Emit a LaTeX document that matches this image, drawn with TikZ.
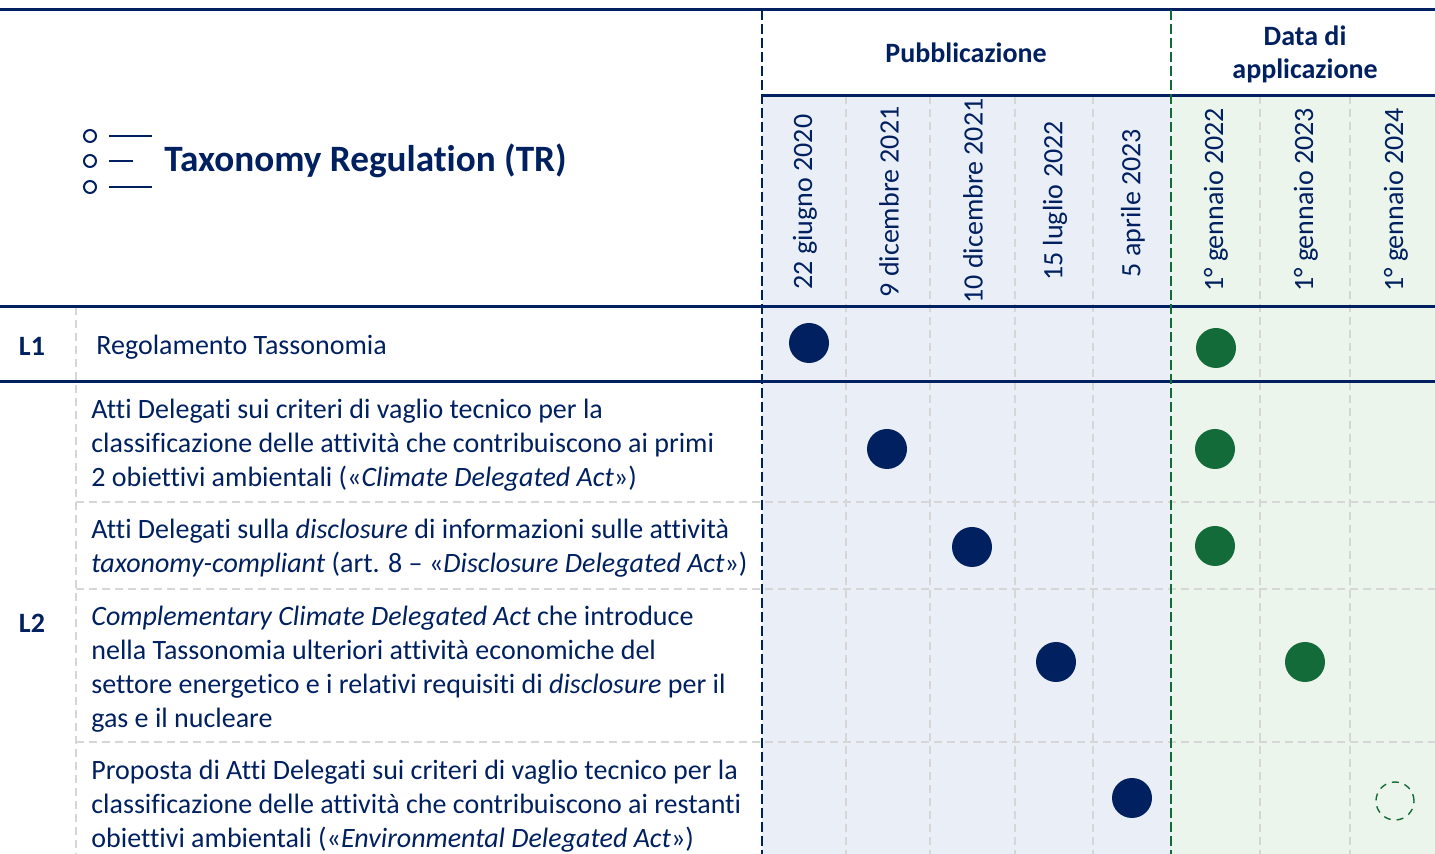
\documentclass[tikz,border=0pt]{standalone}
\usepackage{fontspec}
\setmainfont[Ligatures=NoCommon]{Carlito}

\definecolor{navy}{RGB}{0,32,96}
\definecolor{leafgreen}{RGB}{20,107,58}
\definecolor{pubfill}{RGB}{234,239,247}
\definecolor{appfill}{RGB}{236,245,236}
\definecolor{gridgray}{RGB}{214,214,214}

\tikzset{
  rule/.style={draw=navy, line width=1.5pt},
  gridline/.style={draw=gridgray, line width=1pt, dash pattern=on 4pt off 2.5pt},
  pubdot/.style={circle, fill=navy, minimum size=20pt},
  appdot/.style={circle, fill=leafgreen, minimum size=20pt},
  datelabel/.style={rotate=90},
}

\begin{document}
\begin{tikzpicture}[x=0.5pt,y=-0.5pt]

  \useasboundingbox (0,0) rectangle (1435,854);

  % column backgrounds
  \fill[pubfill] (762,96) rectangle (1171,854);
  \fill[appfill] (1171,96) rectangle (1435,854);

  % light grid
  \draw[gridline] (76,307) -- (76,854);
  \foreach \x in {846,930,1015,1093,1260,1350}
    \draw[gridline] (\x,96) -- (\x,854);
  \foreach \y in {502,589,742}
    \draw[gridline] (76,\y) -- (1435,\y);

  % main rules
  \draw[rule] (0,10) -- (1435,10);
  \draw[rule] (762,96) -- (1435,96);
  \draw[rule] (0,307) -- (1435,307);
  \draw[rule] (0,382) -- (1435,382);
  \draw[navy, line width=1.2pt, dash pattern=on 5pt off 2pt] (762,10) -- (762,854);
  \draw[leafgreen, line width=1.2pt, dash pattern=on 5pt off 2pt] (1171,10) -- (1171,854);

  % list icon
  \begin{scope}[navy, line width=1pt]
    \draw (90,136) circle [radius=6];
    \draw (90,161) circle [radius=6];
    \draw (90,187) circle [radius=6];
    \draw (109,136) -- (152,136);
    \draw (109,161) -- (133,161);
    \draw (109,187) -- (152,187);
  \end{scope}

  \begin{scope}[every node/.style={text=navy, inner sep=0pt, font=\fontsize{14}{17}\selectfont}]
    \node[anchor=west, font=\bfseries\fontsize{18.6}{22}\selectfont] (title) at (164,161) {Taxonomy Regulation (TR)};

    \node[font=\bfseries\fontsize{14}{17}\selectfont] (pub) at (966,53) {Pubblicazione};
    \node[font=\bfseries\fontsize{14}{16.5}\selectfont, align=center] (app) at (1305,54) {Data di\\applicazione};

    % dates
    \node[datelabel] (p1) at (805,202) {22 giugno 2020};
    \node[datelabel] (p2) at (889,202) {9 dicembre 2021};
    \node[datelabel] (p3) at (973,201) {10 dicembre 2021};
    \node[datelabel] (p4) at (1055,201) {15 luglio 2022};
    \node[datelabel] (p5) at (1133,203) {5 aprile 2023};
    \node[datelabel] (a1) at (1216,200) {1° gennaio 2022};
    \node[datelabel] (a2) at (1306,200) {1° gennaio 2023};
    \node[datelabel] (a3) at (1396,200) {1° gennaio 2024};

    % levels
    \node[font=\bfseries\fontsize{14}{17}\selectfont] (l1) at (32,346) {L1};
    \node[font=\bfseries\fontsize{14}{17}\selectfont] (l2) at (32,623) {L2};

    % acts
    \node[anchor=west] (r1) at (96,347) {Regolamento Tassonomia};
    \node[anchor=west, align=left] (r2) at (91,445) {Atti Delegati sui criteri di vaglio tecnico per la\\classificazione delle attività che contribuiscono ai primi\\2 obiettivi ambientali («\textit{Climate Delegated Act}»)};
    \node[anchor=west, align=left] (r3) at (91,548) {Atti Delegati sulla \textit{disclosure} di informazioni sulle attività\\\textit{taxonomy-compliant} (art. 8 – «\textit{Disclosure Delegated Act}»)};
    \node[anchor=west, align=left] (r4) at (91,669) {\textit{Complementary Climate Delegated Act} che introduce\\nella Tassonomia ulteriori attività economiche del\\settore energetico e i relativi requisiti di \textit{disclosure} per il\\gas e il nucleare};
    \node[anchor=west, align=left] (r5) at (91,806) {Proposta di Atti Delegati sui criteri di vaglio tecnico per la\\classificazione delle attività che contribuiscono ai restanti\\obiettivi ambientali («\textit{Environmental Delegated Act}»)};
  \end{scope}

  % milestones
  \node[pubdot] (m1p) at (809,343) {};
  \node[appdot] (m1a) at (1216,348) {};
  \node[pubdot] (m2p) at (887,449) {};
  \node[appdot] (m2a) at (1215,449) {};
  \node[pubdot] (m3p) at (972,547) {};
  \node[appdot] (m3a) at (1215,546) {};
  \node[pubdot] (m4p) at (1056,662) {};
  \node[appdot] (m4a) at (1305,662) {};
  \node[pubdot] (m5p) at (1132,798) {};
  \node[circle, draw=leafgreen, line width=0.7pt, dash pattern=on 3.5pt off 3pt, minimum size=19pt] (m5a) at (1395,801) {};

\end{tikzpicture}
\end{document}
